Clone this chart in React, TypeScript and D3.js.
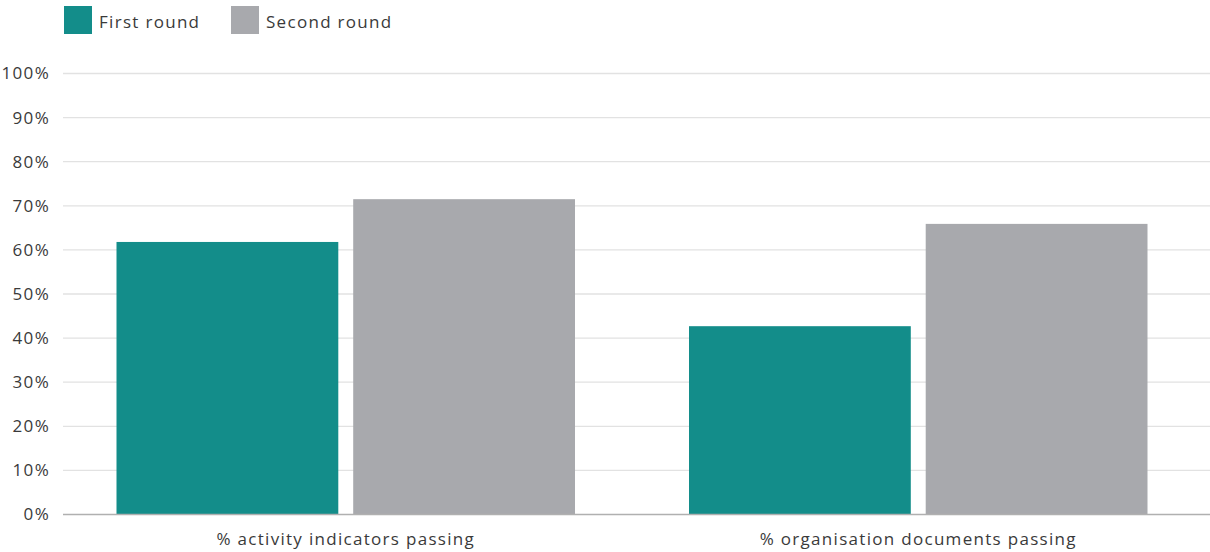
import React from "react";
import * as d3 from "d3";

const categories = ["% activity indicators passing", "% organisation documents passing"];
const seriesNames = ["First round", "Second round"];
const firstRound = [61.8, 42.7];
const secondRound = [71.5, 65.9];
const yTicks = [0, 10, 20, 30, 40, 50, 60, 70, 80, 90, 100];

const colors = ["#138d8a", "#a8a9ad"];

const width = 1210;
const height = 552;
const font = "'Open Sans', sans-serif";
const textColor = "#3a3a3a";
const spacing = 1.3;

export default function App() {
    const y = d3.scaleLinear().domain([0, 100]).range([514.5, 73.5]);
    const x0 = d3.scaleBand<string>().domain(categories).range([59.5, 1204.5]);
    const x1 = d3.scaleBand<string>()
        .domain(seriesNames)
        .range([57, x0.bandwidth() - 57])
        .paddingInner(0.063);

    const values = [firstRound, secondRound];

    return (
        <svg width={width} height={height} style={{ position: "absolute", left: 0, top: 0 }}>
            <rect width={width} height={height} fill="#fff" />

            {/* legend */}
            {seriesNames.map((name, i) => {
                const lx = i === 0 ? 64 : 231;
                return (
                    <g key={name}>
                        <rect x={lx} y={6} width={28} height={28} fill={colors[i]} />
                        <text x={lx + 35} y={28} fontFamily={font} fontSize={17} letterSpacing={spacing}
                            fill={textColor}>{name}</text>
                    </g>
                );
            })}

            {/* grid */}
            {yTicks.map((t) => (
                <g key={t}>
                    {t > 0 && (
                        <line x1={63} x2={1210} y1={y(t)} y2={y(t)} stroke="#e2e2e2" strokeWidth={1.3} />
                    )}
                    <text x={50} y={y(t)} dy="0.35em" textAnchor="end" fontFamily={font}
                        fontSize={17} letterSpacing={spacing} fill={textColor}>{t}%</text>
                </g>
            ))}

            {/* bars */}
            {categories.map((c, ci) => (
                <g key={c} transform={`translate(${x0(c)},0)`}>
                    {seriesNames.map((s, si) => (
                        <rect key={s} x={x1(s)} y={y(values[si][ci])} width={x1.bandwidth()}
                            height={y(0) - y(values[si][ci])} fill={colors[si]} />
                    ))}
                    <text x={x0.bandwidth() / 2} y={539} dy="0.35em" textAnchor="middle"
                        fontFamily={font} fontSize={17} letterSpacing={spacing} fill={textColor}>{c}</text>
                </g>
            ))}

            {/* baseline */}
            <line x1={63} x2={1210} y1={y(0)} y2={y(0)} stroke="#b0b0b0" strokeWidth={1.5} />
        </svg>
    );
}
